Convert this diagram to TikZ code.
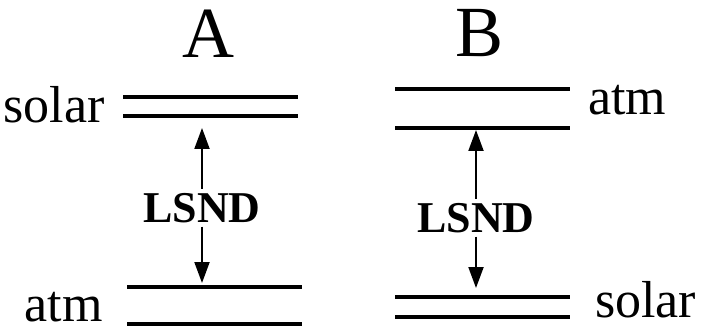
\documentclass[tikz,border=0pt]{standalone}
\usepackage{fontspec}
\setmainfont{Liberation Serif}
\usepackage{tikz}
\usetikzlibrary{arrows.meta,positioning}

\begin{document}
\begin{tikzpicture}[
  x=1pt, y=-1pt,
  schemetitle/.style={inner sep=0pt, anchor=base, font=\fontsize{72}{72}\selectfont},
  levelname/.style={inner sep=0pt, font=\fontsize{52}{52}\selectfont},
  gaplabel/.style={inner sep=4pt, anchor=base, font=\fontsize{44}{44}\selectfont\bfseries},
  levelline/.style={line width=3.6pt},
  flowarrow/.style={-{Triangle[length=21pt,width=15pt]}, line width=2pt}
]
\useasboundingbox (0,0) rectangle (703,331);
% scheme A
\node[schemetitle] (titleA) at (208,58) {A};
\coordinate (solarAup-w) at (123,97);  \coordinate (solarAup-e) at (298,97);
\coordinate (solarAlo-w) at (123,116); \coordinate (solarAlo-e) at (298,116);
\coordinate (atmAup-w) at (127,287);   \coordinate (atmAup-e) at (302,287);
\coordinate (atmAlo-w) at (127,324);   \coordinate (atmAlo-e) at (302,324);
\draw[levelline] (solarAup-w) -- (solarAup-e);
\draw[levelline] (solarAlo-w) -- (solarAlo-e);
\draw[levelline] (atmAup-w) -- (atmAup-e);
\draw[levelline] (atmAlo-w) -- (atmAlo-e);
\node[levelname, anchor=base east] (solarA) at (105,123) {solar};
\node[levelname, anchor=base east] (atmA) at (103,321) {atm};
\node[gaplabel] (lsndA) at (202,222) {LSND};
\draw[flowarrow, shorten >=12pt] (lsndA) -- (lsndA |- solarAlo-w);
\draw[flowarrow, shorten >=4pt] (lsndA) -- (lsndA |- atmAup-w);
% scheme B
\node[schemetitle] (titleB) at (480,57) {B};
\coordinate (atmBup-w) at (395,89);    \coordinate (atmBup-e) at (570,89);
\coordinate (atmBlo-w) at (395,128);   \coordinate (atmBlo-e) at (570,128);
\coordinate (solarBup-w) at (395,297); \coordinate (solarBup-e) at (570,297);
\coordinate (solarBlo-w) at (395,317); \coordinate (solarBlo-e) at (570,317);
\draw[levelline] (atmBup-w) -- (atmBup-e);
\draw[levelline] (atmBlo-w) -- (atmBlo-e);
\draw[levelline] (solarBup-w) -- (solarBup-e);
\draw[levelline] (solarBlo-w) -- (solarBlo-e);
\node[levelname, anchor=base west] (atmB) at (588,115) {atm};
\node[levelname, anchor=base west] (solarB) at (595,317) {solar};
\node[gaplabel] (lsndB) at (476,232) {LSND};
\draw[flowarrow, shorten >=2pt] (lsndB) -- (lsndB |- atmBlo-w);
\draw[flowarrow, shorten >=9pt] (lsndB) -- (lsndB |- solarBup-w);
\end{tikzpicture}
\end{document}
